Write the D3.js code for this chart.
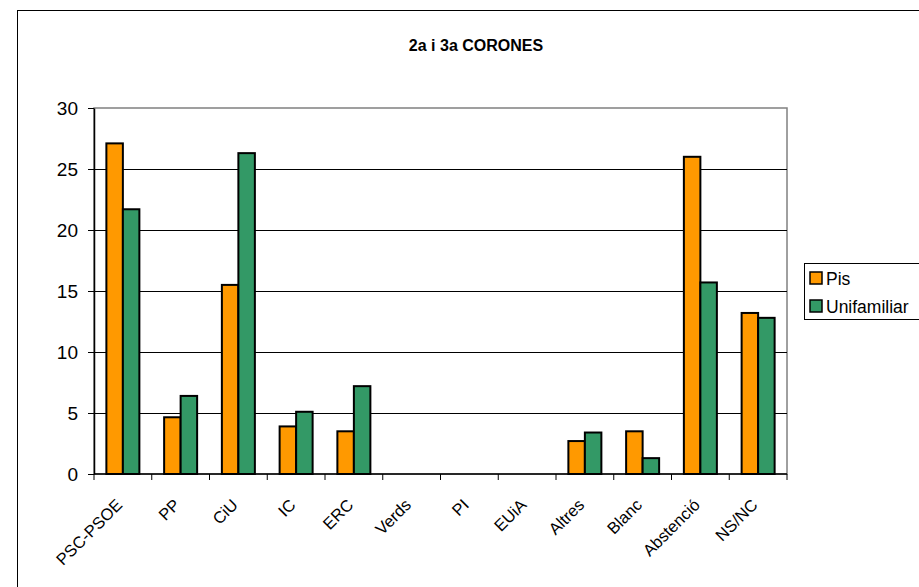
<!DOCTYPE html>
<html>
<head>
<meta charset="utf-8">
<script src="https://cdn.jsdelivr.net/npm/d3@7"></script>
<style>
  html, body { margin: 0; padding: 0; background: #fff; }
  svg { display: block; font-family: "Liberation Sans", Arial, sans-serif; }
</style>
</head>
<body>
<svg id="chart" width="919" height="587"></svg>
<script>
const title = "2a i 3a CORONES";
const categories = ["PSC-PSOE", "PP", "CiU", "IC", "ERC", "Verds", "PI", "EUiA", "Altres", "Blanc", "Abstenció", "NS/NC"];
const seriesNames = ["Pis", "Unifamiliar"];
const pis = [27.1, 4.65, 15.5, 3.9, 3.5, 0, 0, 0, 2.7, 3.5, 26.0, 13.2];
const unifamiliar = [21.7, 6.4, 26.3, 5.1, 7.2, 0, 0, 0, 3.4, 1.3, 15.7, 12.8];
const yTicks = [0, 5, 10, 15, 20, 25, 30];
const colors = ["#FF9900", "#339966"];

const svg = d3.select("#chart");
const W = 919, H = 587;
const plot = { left: 94, right: 787, top: 108, bottom: 474 };

// outer chart border
svg.append("rect")
  .attr("x", 17.5).attr("y", 10.5)
  .attr("width", W + 10).attr("height", H + 10)
  .attr("fill", "#fff").attr("stroke", "#000").attr("stroke-width", 1);

svg.append("text")
  .attr("x", 476).attr("y", 51)
  .attr("text-anchor", "middle")
  .attr("font-size", 16).attr("font-weight", "bold")
  .text(title);

const x = d3.scaleBand().domain(categories).range([plot.left, plot.right]).padding(0);
const y = d3.scaleLinear().domain([0, 30]).range([plot.bottom, plot.top]);

// plot area border (gray)
svg.append("rect")
  .attr("x", plot.left).attr("y", plot.top)
  .attr("width", plot.right - plot.left).attr("height", plot.bottom - plot.top)
  .attr("fill", "#fff").attr("stroke", "#808080").attr("stroke-width", 1.5);

// gridlines
svg.append("g").selectAll("line")
  .data(yTicks.filter(t => t > 0 && t < 30))
  .join("line")
  .attr("x1", plot.left).attr("x2", plot.right)
  .attr("y1", d => Math.round(y(d)) + 0.5).attr("y2", d => Math.round(y(d)) + 0.5)
  .attr("stroke", "#000").attr("stroke-width", 1);

// bars
const data = [pis, unifamiliar];
const barW = 16.5;
data.forEach((vals, si) => {
  svg.append("g").selectAll("rect")
    .data(categories.map((c, i) => ({ c, v: vals[i] })).filter(d => d.v > 0))
    .join("rect")
    .attr("x", d => x(d.c) + x.bandwidth() / 2 - barW + si * barW)
    .attr("y", d => y(d.v))
    .attr("width", barW)
    .attr("height", d => y(0) - y(d.v))
    .attr("fill", colors[si])
    .attr("stroke", "#000").attr("stroke-width", 2);
});

// y axis
const yAxis = d3.axisLeft(y).tickValues(yTicks).tickSize(6).tickPadding(10).tickSizeOuter(0);
const gy = svg.append("g").attr("transform", `translate(${plot.left},0)`).call(yAxis);
gy.select(".domain").attr("stroke", "#000").attr("stroke-width", 1.5);
gy.selectAll(".tick line").attr("stroke", "#000");
gy.selectAll(".tick text").attr("font-size", 19).attr("fill", "#000")
  .attr("font-family", "Liberation Sans, Arial, sans-serif");

// x axis line and ticks at band boundaries
const gx = svg.append("g");
gx.append("line")
  .attr("x1", plot.left).attr("x2", plot.right)
  .attr("y1", plot.bottom).attr("y2", plot.bottom)
  .attr("stroke", "#000").attr("stroke-width", 1.5);
const boundaries = categories.map(c => x(c)).concat([plot.right]);
gx.selectAll("line.tk").data(boundaries).join("line")
  .attr("class", "tk")
  .attr("x1", d => d).attr("x2", d => d)
  .attr("y1", plot.bottom).attr("y2", plot.bottom + 6)
  .attr("stroke", "#000").attr("stroke-width", 1);

// x labels rotated
gx.selectAll("text").data(categories).join("text")
  .attr("transform", d => `translate(${x(d) + x.bandwidth() / 2 + 0.5},${plot.bottom + 32}) rotate(-45)`)
  .attr("text-anchor", "end")
  .attr("font-size", 16.5)
  .text(d => d);

// legend
const lg = svg.append("g");
lg.append("rect")
  .attr("x", 804.5).attr("y", 263.5).attr("width", 130).attr("height", 56)
  .attr("fill", "#fff").attr("stroke", "#000").attr("stroke-width", 1);
seriesNames.forEach((n, i) => {
  const yy = 272 + i * 28;
  lg.append("rect").attr("x", 810).attr("y", yy).attr("width", 12).attr("height", 12)
    .attr("fill", colors[i]).attr("stroke", "#000").attr("stroke-width", 1.5);
  lg.append("text").attr("x", 826).attr("y", yy + 12.5).attr("font-size", 17.5).text(n);
});
</script>
</body>
</html>
